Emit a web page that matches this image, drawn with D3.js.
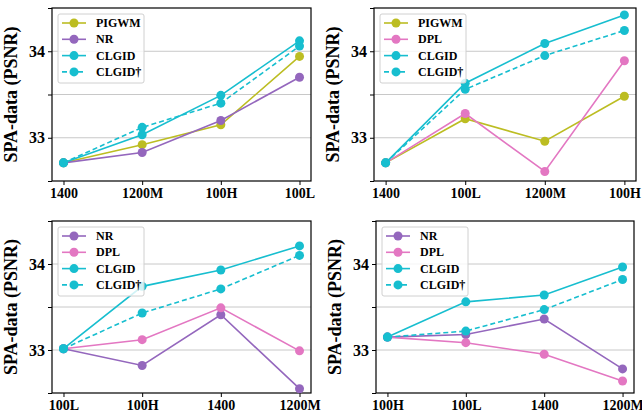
<!DOCTYPE html>
<html>
<head>
<meta charset="utf-8">
<script src="https://cdn.jsdelivr.net/npm/d3@7"></script>
<style>
  body { margin: 0; background: #fff; }
  svg { font-family: "Liberation Serif", "Times New Roman", serif; font-weight: bold; }
</style>
</head>
<body>
<div id="chart"></div>
<script>
// categories per panel
const cats1 = ['1400', '1200M', '100H', '100L'];
const cats2 = ['1400', '100L', '1200M', '100H'];
const cats3 = ['100L', '100H', '1400', '1200M'];
const cats4 = ['100H', '100L', '1400', '1200M'];

// series values
const p1PIGWM = [32.71, 32.92, 33.15, 33.94];
const p1NR = [32.71, 32.83, 33.20, 33.70];
const p1CLGID = [32.71, 33.035, 33.49, 34.12];
const p1CLGIDd = [32.71, 33.12, 33.40, 34.06];

const p2PIGWM = [32.71, 33.22, 32.96, 33.48];
const p2DPL = [32.71, 33.28, 32.61, 33.89];
const p2CLGID = [32.71, 33.63, 34.09, 34.42];
const p2CLGIDd = [32.71, 33.56, 33.95, 34.24];

const p3NR = [33.015, 32.82, 33.41, 32.55];
const p3DPL = [33.015, 33.12, 33.49, 32.99];
const p3CLGID = [33.015, 33.74, 33.93, 34.21];
const p3CLGIDd = [33.015, 33.43, 33.71, 34.10];

const p4NR = [33.15, 33.18, 33.36, 32.78];
const p4DPL = [33.15, 33.085, 32.95, 32.64];
const p4CLGID = [33.15, 33.56, 33.64, 33.965];
const p4CLGIDd = [33.15, 33.22, 33.47, 33.82];

const yTicks = [32.5, 33, 33.5, 34, 34.5];
const yLabels = [33, 34];
const yDomain = [32.5, 34.5];

const colors = { PIGWM: '#bcbd22', NR: '#9467bd', DPL: '#e377c2', CLGID: '#17becf' };

const panels = [
  { cats: cats1, box: [52, 311, 8, 181], series: [
    { name: 'PIGWM', c: colors.PIGWM, v: p1PIGWM },
    { name: 'NR', c: colors.NR, v: p1NR },
    { name: 'CLGID', c: colors.CLGID, v: p1CLGID },
    { name: 'CLGID†', c: colors.CLGID, v: p1CLGIDd, dash: true }] },
  { cats: cats2, box: [374, 636, 8, 181], series: [
    { name: 'PIGWM', c: colors.PIGWM, v: p2PIGWM },
    { name: 'DPL', c: colors.DPL, v: p2DPL },
    { name: 'CLGID', c: colors.CLGID, v: p2CLGID },
    { name: 'CLGID†', c: colors.CLGID, v: p2CLGIDd, dash: true }] },
  { cats: cats3, box: [52, 311, 221, 393], series: [
    { name: 'NR', c: colors.NR, v: p3NR },
    { name: 'DPL', c: colors.DPL, v: p3DPL },
    { name: 'CLGID', c: colors.CLGID, v: p3CLGID },
    { name: 'CLGID†', c: colors.CLGID, v: p3CLGIDd, dash: true }] },
  { cats: cats4, box: [376, 634, 221, 393], series: [
    { name: 'NR', c: colors.NR, v: p4NR },
    { name: 'DPL', c: colors.DPL, v: p4DPL },
    { name: 'CLGID', c: colors.CLGID, v: p4CLGID },
    { name: 'CLGID†', c: colors.CLGID, v: p4CLGIDd, dash: true }] }
];

const svg = d3.select('#chart').append('svg')
  .attr('width', 642).attr('height', 415);

panels.forEach(p => {
  const [l, r, t, b] = p.box;
  const x = d3.scalePoint().domain(p.cats).range([l, r]).padding(0.146);
  const y = d3.scaleLinear().domain(yDomain).range([b, t]);
  const g = svg.append('g');

  // grid
  g.selectAll('.grid').data(yTicks.slice(1, -1)).enter().append('line')
    .attr('x1', l).attr('x2', r)
    .attr('y1', d => y(d)).attr('y2', d => y(d))
    .attr('stroke', '#c8c8c8').attr('stroke-width', 1);

  // axes
  g.append('g').attr('transform', `translate(${l},0)`)
    .call(d3.axisLeft(y).tickValues(yTicks)
      .tickFormat(d => yLabels.includes(d) ? d3.format('d')(d) : '').tickSize(4).tickPadding(3))
    .call(a => a.select('.domain').remove())
    .call(a => a.selectAll('text').attr('font-size', 16).attr('font-family', 'Liberation Serif').attr('font-weight', 'bold').attr('fill', '#000'));

  g.append('g').attr('transform', `translate(0,${b})`)
    .call(d3.axisBottom(x).tickSize(4).tickPadding(3))
    .call(a => a.select('.domain').remove())
    .call(a => a.selectAll('text').attr('font-size', 14).attr('font-family', 'Liberation Serif').attr('font-weight', 'bold').attr('fill', '#000'));

  g.append('rect').attr('x', l).attr('y', t).attr('width', r - l).attr('height', b - t)
    .attr('fill', 'none').attr('stroke', '#000').attr('stroke-width', 1.2);

  g.append('text')
    .attr('transform', `translate(${l - 35},${(t + b) / 2}) rotate(-90)`)
    .attr('text-anchor', 'middle').attr('font-size', 18)
    .text('SPA-data (PSNR)');

  const line = d3.line().x((d, i) => x(p.cats[i])).y(d => y(d));

  p.series.forEach(s => {
    g.append('path').datum(s.v).attr('d', line)
      .attr('fill', 'none').attr('stroke', s.c).attr('stroke-width', 1.6)
      .attr('stroke-dasharray', s.dash ? '5,3' : null);
    g.selectAll(null).data(s.v).enter().append('circle')
      .attr('cx', (d, i) => x(p.cats[i])).attr('cy', d => y(d))
      .attr('r', 4.5).attr('fill', s.c);
  });

  // legend
  const lg = g.append('g').attr('transform', `translate(${l + 6},${t + 6})`);
  lg.append('rect').attr('width', 86).attr('height', 69).attr('rx', 2)
    .attr('fill', '#fff').attr('fill-opacity', 0.8).attr('stroke', '#d0d0d0');
  p.series.forEach((s, i) => {
    const yy = 9 + i * 16.3;
    lg.append('line').attr('x1', 4).attr('x2', 28).attr('y1', yy).attr('y2', yy)
      .attr('stroke', s.c).attr('stroke-width', 1.6)
      .attr('stroke-dasharray', s.dash ? '5,3' : null);
    lg.append('circle').attr('cx', 16).attr('cy', yy).attr('r', 4.5).attr('fill', s.c);
    lg.append('text').attr('x', 38).attr('y', yy + 4).attr('font-size', 12).text(s.name);
  });
});
</script>
</body>
</html>
